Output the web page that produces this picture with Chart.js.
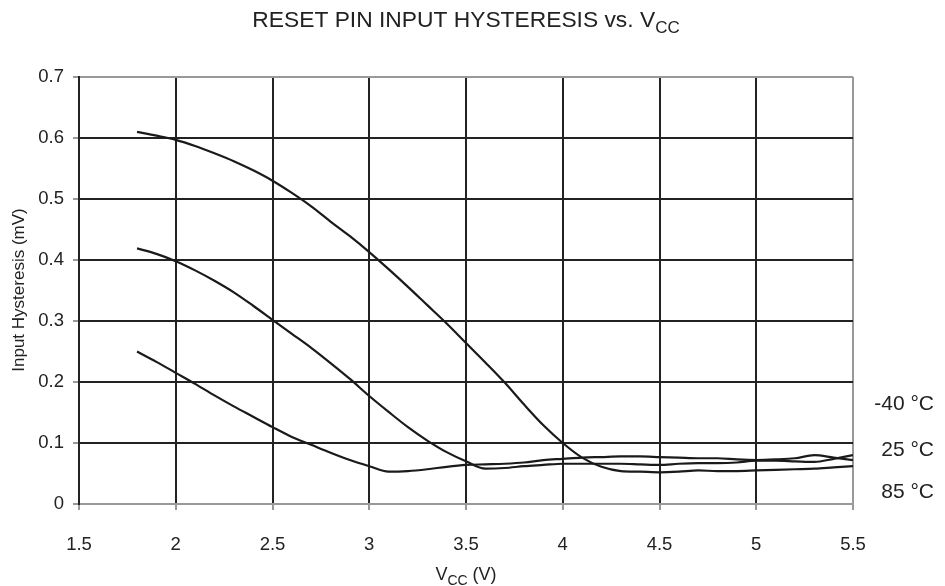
<!DOCTYPE html>
<html>
<head>
<meta charset="utf-8">
<title>Reset Pin Input Hysteresis vs. VCC</title>
<script src="https://cdn.jsdelivr.net/npm/chart.js@4/dist/chart.umd.min.js"></script>
<style>
  html, body { margin: 0; padding: 0; background: #fff; }
  #chart-box { width: 945px; height: 586px; }
</style>
</head>
<body>
<div id="chart-box"><canvas id="my-chart"></canvas></div>
<script>
'use strict';

// ***** DATA *****

let vccValues = [1.8, 1.9, 2.0, 2.1, 2.2, 2.3, 2.4, 2.5, 2.6, 2.7, 2.8, 2.9, 3.0, 3.1, 3.2, 3.3, 3.4, 3.5, 3.6,
  3.7, 3.8, 3.9, 4.0, 4.1, 4.2, 4.3, 4.4, 4.5, 4.6, 4.7, 4.8, 4.9, 5.0, 5.1, 5.2, 5.3, 5.4, 5.5];

let minus40Values = [0.610, 0.604, 0.597, 0.587, 0.575, 0.562, 0.547, 0.530, 0.510, 0.488, 0.463, 0.439, 0.413,
  0.385, 0.356, 0.326, 0.296, 0.264, 0.232, 0.199, 0.163, 0.129, 0.100, 0.076, 0.061, 0.054, 0.053, 0.052,
  0.053, 0.055, 0.054, 0.054, 0.055, 0.056, 0.057, 0.058, 0.060, 0.062];

let plus25Values = [0.419, 0.410, 0.398, 0.383, 0.366, 0.347, 0.325, 0.302, 0.279, 0.256, 0.231, 0.205, 0.177,
  0.151, 0.126, 0.104, 0.085, 0.070, 0.058, 0.059, 0.062, 0.064, 0.066, 0.066, 0.066, 0.066, 0.065, 0.064,
  0.066, 0.067, 0.067, 0.068, 0.071, 0.071, 0.070, 0.069, 0.074, 0.080];

let plus85Values = [0.250, 0.233, 0.215, 0.197, 0.178, 0.160, 0.143, 0.126, 0.110, 0.097, 0.084, 0.072, 0.062,
  0.053, 0.054, 0.057, 0.061, 0.064, 0.065, 0.066, 0.068, 0.072, 0.074, 0.076, 0.077, 0.078, 0.078, 0.077,
  0.076, 0.075, 0.075, 0.073, 0.072, 0.073, 0.075, 0.080, 0.076, 0.072];

let seriesLabels = ['-40 \u00B0C', '25 \u00B0C', '85 \u00B0C'];
let xTicks = [1.5, 2, 2.5, 3, 3.5, 4, 4.5, 5, 5.5];
let yTicks = [0, 0.1, 0.2, 0.3, 0.4, 0.5, 0.6, 0.7];

// ***** HELPERS *****

let fontFamily = '"Liberation Sans", Arial, Helvetica, sans-serif';
let textColor = '#222';
let gridDark = '#222';
let gridGray = '#999';

function toPoints(values){
  let points = [];
  for(let i = 0; i < vccValues.length; i++){
    points.push({x: vccValues[i], y: values[i]});
  }
  return points;
}

function makeDataset(label, values){
  return {
    label: label,
    data: toPoints(values),
    borderColor: '#1a1a1a',
    borderWidth: 2.2,
    pointRadius: 0,
    cubicInterpolationMode: 'monotone',
    fill: false
  };
}

// draws main text + subscript + rest, centered at x
function drawSubText(ctx, x, y, size, mainText, subText, restText){
  ctx.font = size + 'px ' + fontFamily;
  let w1 = ctx.measureText(mainText).width;
  let w3 = ctx.measureText(restText).width;
  let subSize = Math.round(size * 0.75);
  ctx.font = subSize + 'px ' + fontFamily;
  let w2 = ctx.measureText(subText).width;
  let start = x - (w1 + w2 + w3) / 2;

  ctx.font = size + 'px ' + fontFamily;
  ctx.fillText(mainText, start, y);
  ctx.font = subSize + 'px ' + fontFamily;
  ctx.fillText(subText, start + w1, y + size * 0.25);
  ctx.font = size + 'px ' + fontFamily;
  ctx.fillText(restText, start + w1 + w2, y);
}

// ***** TEXT PLUGIN *****

let textPlugin = {
  id: 'textPlugin',
  afterDraw(chart){
    let ctx = chart.ctx;
    ctx.save();
    ctx.fillStyle = textColor;
    ctx.textAlign = 'left';
    ctx.textBaseline = 'alphabetic';

    // chart title
    drawSubText(ctx, 466, 27, 22.8, 'RESET PIN INPUT HYSTERESIS vs. V', 'CC', '');

    // x axis title
    drawSubText(ctx, 466, 580, 18, 'V', 'CC', ' (V)');

    // y axis title
    ctx.save();
    ctx.translate(24, 290);
    ctx.rotate(-Math.PI / 2);
    ctx.textAlign = 'center';
    ctx.font = '17px ' + fontFamily;
    ctx.fillText('Input Hysteresis (mV)', 0, 0);
    ctx.restore();

    // temperature labels
    ctx.textAlign = 'right';
    ctx.textBaseline = 'middle';
    ctx.font = '21px ' + fontFamily;
    ctx.fillText(seriesLabels[0], 934, 404);
    ctx.fillText(seriesLabels[1], 934, 450);
    ctx.fillText(seriesLabels[2], 934, 492);
    ctx.restore();
  }
};

// ***** CHART *****

let ctx = document.getElementById('my-chart').getContext('2d');

let myChartObj = {
  type: 'line',
  data: {
    datasets: [
      makeDataset(seriesLabels[0], minus40Values),
      makeDataset(seriesLabels[1], plus25Values),
      makeDataset(seriesLabels[2], plus85Values)
    ]
  },
  options: {
    responsive: true,
    maintainAspectRatio: false,
    animation: false,
    layout: {
      padding: {top: 77, right: 92, left: 0, bottom: 0}
    },
    plugins: {
      legend: {display: false},
      title: {display: false},
      tooltip: {enabled: false}
    },
    scales: {
      x: {
        type: 'linear',
        min: xTicks[0],
        max: xTicks[xTicks.length - 1],
        afterBuildTicks: function(scale){
          scale.ticks = xTicks.map(v => ({value: v}));
        },
        afterFit: function(scale){
          scale.height = 82;
        },
        ticks: {
          color: textColor,
          font: {family: fontFamily, size: 18.5},
          padding: 24,
          maxRotation: 0,
          callback: v => String(v)
        },
        grid: {
          color: c => (c.tick && c.tick.value === 5.5) ? gridGray : gridDark,
          lineWidth: 2,
          tickLength: 6,
          tickColor: gridGray
        },
        border: {color: gridGray, width: 2}
      },
      y: {
        type: 'linear',
        min: yTicks[0],
        max: yTicks[yTicks.length - 1],
        afterBuildTicks: function(scale){
          scale.ticks = yTicks.map(v => ({value: v}));
        },
        afterFit: function(scale){
          scale.width = 79;
        },
        ticks: {
          color: textColor,
          font: {family: fontFamily, size: 18.5},
          padding: 9,
          callback: v => String(Math.round(v * 10) / 10)
        },
        grid: {
          color: c => (c.tick && (c.tick.value === 0.7 || c.tick.value === 0)) ? gridGray : gridDark,
          lineWidth: 2,
          tickLength: 6,
          tickColor: gridGray
        },
        border: {color: gridDark, width: 2}
      }
    }
  },
  plugins: [textPlugin]
};

new Chart(ctx, myChartObj);
</script>
</body>
</html>
